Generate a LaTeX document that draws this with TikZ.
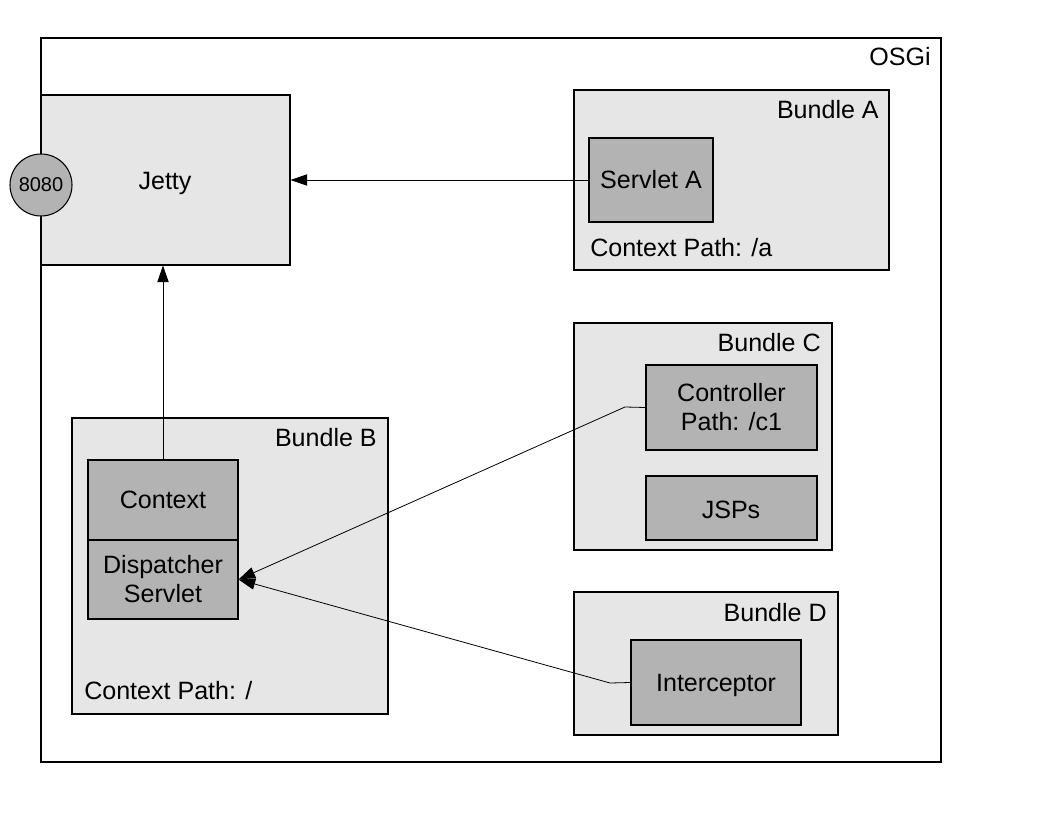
\documentclass[tikz,border=0pt]{standalone}
\usepackage{fontspec}
\setmainfont{Liberation Sans}
\usetikzlibrary{fit,arrows.meta}
\definecolor{light}{HTML}{E6E6E6}
\definecolor{dark}{HTML}{B3B3B3}
\begin{document}
\begin{tikzpicture}[x=0.75pt,y=-0.75pt,
  outerbox/.style={draw=black,line width=0.8pt,fill=white,inner sep=0pt},
  box/.style={draw=black,line width=0.8pt,fill=light,inner sep=0pt},
  inbox/.style={draw=black,line width=0.8pt,fill=dark,inner sep=0pt},
  lbl/.style={font=\fontsize{18.8}{21.75}\selectfont,inner sep=0pt,align=center},
  conn/.style={line width=0.6pt,line join=bevel,-{Triangle[length=12.5pt,width=8.5pt]}}]
\useasboundingbox[fill=white] (0,0) rectangle (1056,816);

% containers
\node[outerbox,fit={(41,38) (941,762)}] (osgi) {};
\node[lbl,anchor=east] (osgil) at (931,57) {OSGi};

\node[box,fit={(41,95) (290,265)}] (jetty) {};
\node[lbl] (jettyl) at (165,183) {Jetty};
\node[circle,draw=black,line width=0.8pt,fill=dark,minimum size=46.5pt,inner sep=0pt,
      font=\fontsize{15}{18}\selectfont] (port) at (41,185) {8080};

\node[box,fit={(574,90) (889,270)}] (ba) {};
\node[lbl,anchor=east] (bal) at (879,110) {Bundle A};
\node[inbox,fit={(589,138) (713,222)}] (sa) {};
\node[lbl] (sal) at (sa.center) {Servlet A};
\node[lbl,anchor=west] (cpa) at (590,248) {Context Path: /a};

\node[box,fit={(574,323) (832,550)}] (bc) {};
\node[lbl,anchor=east] (bcl) at (821,343) {Bundle C};
\node[inbox,fit={(646,365) (817,450)}] (ctrl) {};
\node[lbl] (ctrll) at (ctrl.center) {Controller\\Path: /c1};
\node[inbox,fit={(646,476) (817,540)}] (jsp) {};
\node[lbl] (jspl) at (731,510) {JSPs};

\node[box,fit={(72,418) (388,714)}] (bb) {};
\node[lbl,anchor=east] (bbl) at (377,438) {Bundle B};
\node[inbox,fit={(88,460) (238,540)}] (ctx) {};
\node[lbl] (ctxl) at (ctx.center) {Context};
\node[inbox,fit={(88,540) (238,619)}] (disp) {};
\node[lbl] (displ) at (disp.center) {Dispatcher\\Servlet};
\node[lbl,anchor=west] (cpb) at (84,691) {Context Path: /};

\node[box,fit={(574,592) (838,735)}] (bd) {};
\node[lbl,anchor=east] (bdl) at (827,613) {Bundle D};
\node[inbox,fit={(631,640) (801,725)}] (icpt) {};
\node[lbl] (icptl) at (716,685) {Interceptor};

% connectors
\coordinate (k1) at (625,407);
\coordinate (k2) at (610,683);
\draw[conn] (sa.west) -- (sa.west -| jetty.east);
\draw[conn] (ctx.north) -- (ctx.north |- jetty.south);
\draw[conn] (ctrl.west) -- (k1) -- (disp.east);
\draw[conn] (icpt.west) -- (k2) -- (disp.east);
\end{tikzpicture}
\end{document}
